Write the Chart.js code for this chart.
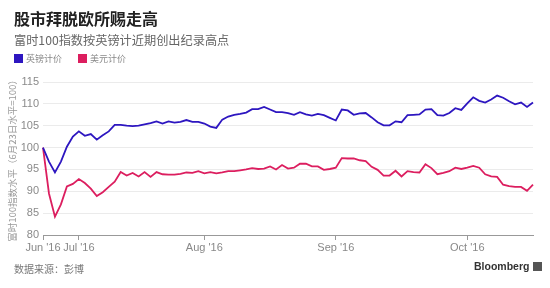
<!DOCTYPE html>
<html>
<head>
<meta charset="utf-8">
<script src="https://cdn.jsdelivr.net/npm/chart.js@4"></script>
<style>
  html, body { margin: 0; padding: 0; background: #fff; }
  body { width: 550px; height: 288px; position: relative; overflow: hidden;
         font-family: "Noto Sans CJK SC", "Noto Sans", sans-serif; }
  #chart { position: absolute; left: 0; top: 0; }
  .title { position: absolute; left: 14px; top: 6px; font-size: 16px; font-weight: bold; color: #222; }
  .subtitle { position: absolute; left: 14px; top: 31px; font-size: 12.2px; color: #666; }
  .legend { position: absolute; top: 52px; font-size: 9px; color: #888; display: flex; align-items: center; }
  .legend i { display: inline-block; width: 9px; height: 9px; margin-right: 3px; }
  .source { position: absolute; left: 14px; top: 261px; font-size: 10px; color: #777; }
  .brand { position: absolute; left: 474px; top: 260px; font-family: "Liberation Sans", Arial, sans-serif;
           font-size: 10.5px; font-weight: bold; color: #333; display: flex; align-items: center; }
  .brand i { display: inline-block; width: 9px; height: 9px; background: #555; margin-left: 4px; }
</style>
</head>
<body>
<canvas id="chart" width="550" height="288"></canvas>
<div class="title">股市拜脱欧所赐走高</div>
<div class="subtitle">富时100指数按英镑计近期创出纪录高点</div>
<div class="legend" style="left:14px"><i style="background:#2d16c0"></i>英镑计价</div>
<div class="legend" style="left:78px"><i style="background:#dc1e5f"></i>美元计价</div>
<div class="source">数据来源：彭博</div>
<div class="brand">Bloomberg<i></i></div>
<script>
// 交易日 (2016)
const dates = [
  "06-23","06-24","06-27","06-28","06-29","06-30",
  "07-01","07-04","07-05","07-06","07-07","07-08","07-11","07-12","07-13","07-14","07-15",
  "07-18","07-19","07-20","07-21","07-22","07-25","07-26","07-27","07-28","07-29",
  "08-01","08-02","08-03","08-04","08-05","08-08","08-09","08-10","08-11","08-12",
  "08-15","08-16","08-17","08-18","08-19","08-22","08-23","08-24","08-25","08-26","08-30","08-31",
  "09-01","09-02","09-05","09-06","09-07","09-08","09-09","09-12","09-13","09-14","09-15","09-16",
  "09-19","09-20","09-21","09-22","09-23","09-26","09-27","09-28","09-29","09-30",
  "10-03","10-04","10-05","10-06","10-07","10-10","10-11","10-12","10-13","10-14","10-17","10-18"
];

const monthLabels = ["Jun '16", "Jul '16", "Aug '16", "Sep '16", "Oct '16"];
const yTicks = [80, 85, 90, 95, 100, 105, 110, 115];

const gbpSeries = [
  100, 96.8, 94.3, 96.8, 100.2, 102.5,
  103.7, 102.7, 103.1, 101.8, 102.8, 103.7, 105.2, 105.2, 105.0, 104.9, 105.0,
  105.3, 105.6, 106.0, 105.5, 106.0, 105.7, 105.9, 106.3, 105.9, 105.9,
  105.5, 104.8, 104.5, 106.4, 107.1, 107.5, 107.7, 108.0, 108.8, 108.8,
  109.3, 108.7, 108.1, 108.1, 107.9, 107.5, 108.1, 107.6, 107.3, 107.7, 107.4, 106.8,
  106.2, 108.7, 108.5, 107.5, 107.8, 107.9, 106.9, 105.8, 105.1, 105.1, 106.0, 105.8,
  107.4, 107.5, 107.6, 108.7, 108.8, 107.4, 107.3, 107.9, 109.0, 108.6,
  110.1, 111.5, 110.7, 110.3, 111.0, 111.9, 111.4, 110.6, 109.9, 110.3, 109.3, 110.3
];

const usdSeries = [
  100, 89.5, 84.2, 87.0, 91.1, 91.7,
  92.8, 91.9, 90.6, 88.9, 89.8, 91.0, 92.2, 94.4, 93.6, 94.2, 93.4,
  94.4, 93.3, 94.4, 93.9, 93.8, 93.8, 94.0, 94.3, 94.2, 94.6,
  94.1, 94.4, 94.1, 94.3, 94.6, 94.6, 94.8, 95.0, 95.3, 95.1,
  95.2, 95.7, 95.0, 96.0, 95.2, 95.4, 96.3, 96.3, 95.7, 95.7, 94.9, 95.1,
  95.4, 97.6, 97.5, 97.5, 97.1, 96.9, 95.6, 94.9, 93.6, 93.6, 94.7, 93.4,
  94.6, 94.4, 94.3, 96.2, 95.3, 93.9, 94.2, 94.6, 95.4, 95.1,
  95.4, 95.8, 95.4, 93.9, 93.4, 93.3, 91.5, 91.2, 91.0, 91.0, 90.1, 91.5
];

const tickFont = { family: "'Liberation Sans', Arial, sans-serif", size: 11 };

new Chart(document.getElementById("chart"), {
  type: "line",
  data: {
    labels: dates,
    datasets: [
      { label: "英镑计价", data: gbpSeries, borderColor: "#2d16c0", borderWidth: 1.8,
        pointRadius: 0, tension: 0 },
      { label: "美元计价", data: usdSeries, borderColor: "#dc1e5f", borderWidth: 1.8,
        pointRadius: 0, tension: 0 }
    ]
  },
  options: {
    responsive: false,
    animation: false,
    layout: { padding: { left: 0, right: 17, top: 82, bottom: 33 } },
    plugins: { legend: { display: false }, tooltip: { enabled: false } },
    scales: {
      x: {
        offset: false,
        afterFit: (s) => { s.height = 20; },
        grid: { drawOnChartArea: false, drawTicks: true, tickLength: 5, color: "#999" },
        border: { color: "#999" },
        ticks: {
          autoSkip: false, maxRotation: 0, padding: 1, color: "#888", font: tickFont,
          callback: (v, i) => {
            const m = dates[i].slice(0, 2);
            if (i === 0 || m !== dates[i - 1].slice(0, 2)) return monthLabels[Number(m) - 6];
            return null;
          }
        }
      },
      y: {
        min: 80, max: 115,
        afterFit: (s) => { s.width = 43; },
        afterBuildTicks: (s) => { s.ticks = yTicks.map(v => ({ value: v })); },
        grid: { color: "#ebebeb", drawTicks: false },
        border: { display: false },
        ticks: { padding: 4, color: "#8a8a8a", font: tickFont },
        title: {
          display: true, text: "富时100指数水平（6月23日水平=100）",
          color: "#999", font: { family: "'Noto Sans CJK SC', sans-serif", size: 9.5 },
          padding: { top: 7, bottom: 0 }
        }
      }
    }
  }
});
</script>
</body>
</html>
